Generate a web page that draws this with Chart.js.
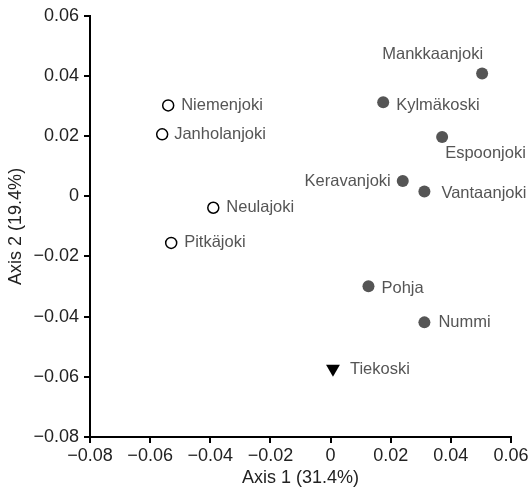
<!DOCTYPE html>
<html lang="fi">
<head>
  <meta charset="UTF-8" />
  <title>Ordination</title>
  <script src="https://cdn.jsdelivr.net/npm/chart.js"></script>
  <style>
    html, body { margin: 0; padding: 0; background: #fff; }
    #wrap { width: 531px; height: 493px; }
  </style>
</head>
<body>
  <div id="wrap"><canvas id="ordChart" width="531" height="493"></canvas></div>

  <script>
    // site names and their scores on the two axes
    const sites = ['Niemenjoki', 'Janholanjoki', 'Neulajoki', 'Pitkäjoki',
                   'Mankkaanjoki', 'Kylmäkoski', 'Espoonjoki', 'Keravanjoki',
                   'Vantaanjoki', 'Pohja', 'Nummi', 'Tiekoski'];
    const axis1 = [-0.054, -0.056, -0.039, -0.053,
                   0.0504, 0.0175, 0.0371, 0.024,
                   0.0312, 0.0126, 0.0312, 0.0008];
    const axis2 = [0.0302, 0.0206, -0.0038, -0.0155,
                   0.0408, 0.0313, 0.0197, 0.0051,
                   0.0016, -0.0299, -0.0419, -0.0573];
    // group: 0 = open circle, 1 = filled circle, 2 = triangle
    const groups = [0, 0, 0, 0, 1, 1, 1, 1, 1, 1, 1, 2];
    const tickValues = [-0.08, -0.06, -0.04, -0.02, 0, 0.02, 0.04, 0.06];

    // where each label sits relative to its marker
    const labelAlign = ['left', 'left', 'left', 'left',
                        'right', 'left', 'left', 'right',
                        'left', 'left', 'left', 'left'];
    const labelDx = [13, 12, 13, 13, 1, 13, 3, -12, 17, 13, 14, 17];
    const labelDy = [0, 0, 0, 0, -19, 3, 16, 0, 2, 2, 0, 1];

    const groupStyle = [
      { pointStyle: 'circle', radius: 5.5, bg: '#fff', border: '#000', bw: 1.5, rot: 0 },
      { pointStyle: 'circle', radius: 6, bg: '#555', border: '#555', bw: 0, rot: 0 },
      { pointStyle: 'triangle', radius: 8, bg: '#000', border: '#000', bw: 0, rot: 180 }
    ];

    const datasets = groupStyle.map((st, g) => {
      const pts = [];
      sites.forEach((name, i) => {
        if (groups[i] === g) pts.push({ x: axis1[i], y: axis2[i], name: name, idx: i });
      });
      return {
        data: pts,
        pointStyle: st.pointStyle,
        pointRadius: st.radius,
        pointHoverRadius: st.radius,
        pointBackgroundColor: st.bg,
        pointBorderColor: st.border,
        pointBorderWidth: st.bw,
        pointRotation: st.rot
      };
    });

    const fontFamily = '"Liberation Sans", Arial, sans-serif';

    const fmt = v => {
      if (Math.abs(v) < 1e-9) return '0';
      return v.toFixed(2).replace('-', '\u2212');
    };

    const siteLabels = {
      id: 'siteLabels',
      afterDatasetsDraw(chart) {
        const ctx = chart.ctx;
        ctx.save();
        ctx.font = '16.5px ' + fontFamily;
        ctx.fillStyle = '#555';
        ctx.textBaseline = 'middle';
        chart.data.datasets.forEach((ds, d) => {
          const meta = chart.getDatasetMeta(d);
          meta.data.forEach((el, j) => {
            const i = ds.data[j].idx;
            ctx.textAlign = labelAlign[i];
            ctx.fillText(ds.data[j].name, el.x + labelDx[i], el.y + labelDy[i]);
          });
        });
        ctx.restore();
      }
    };

    const ticksFrom = scale => { scale.ticks = tickValues.map(v => ({ value: v })); };

    const ctx1 = document.getElementById('ordChart').getContext('2d');
    new Chart(ctx1, {
      type: 'scatter',
      data: { datasets: datasets },
      options: {
        responsive: false,
        animation: false,
        layout: { padding: { top: 14, right: 20, left: 0, bottom: 0 } },
        plugins: { legend: { display: false }, tooltip: { enabled: false } },
        scales: {
          x: {
            min: -0.08, max: 0.06,
            afterBuildTicks: ticksFrom,
            afterFit: s => { s.height = 56; },
            grid: { display: true, drawOnChartArea: false, drawTicks: true, tickLength: 6, color: '#000', lineWidth: 2 },
            border: { display: true, color: '#000', width: 2 },
            ticks: { callback: v => fmt(v), color: '#222', font: { family: fontFamily, size: 18 }, padding: 2, maxRotation: 0, autoSkip: false },
            title: { display: true, text: 'Axis 1 (31.4%)', color: '#222', font: { family: fontFamily, size: 18 }, padding: { top: 0, bottom: 4 } }
          },
          y: {
            min: -0.08, max: 0.06,
            afterBuildTicks: ticksFrom,
            afterFit: s => { s.width = 90; },
            grid: { display: true, drawOnChartArea: false, drawTicks: true, tickLength: 6, color: '#000', lineWidth: 2 },
            border: { display: true, color: '#000', width: 2 },
            ticks: { callback: v => fmt(v), color: '#222', font: { family: fontFamily, size: 18 }, padding: 5, autoSkip: false },
            title: { display: true, text: 'Axis 2 (19.4%)', color: '#222', font: { family: fontFamily, size: 18 }, padding: { top: 5, bottom: 0 } }
          }
        }
      },
      plugins: [siteLabels]
    });
  </script>
</body>
</html>
